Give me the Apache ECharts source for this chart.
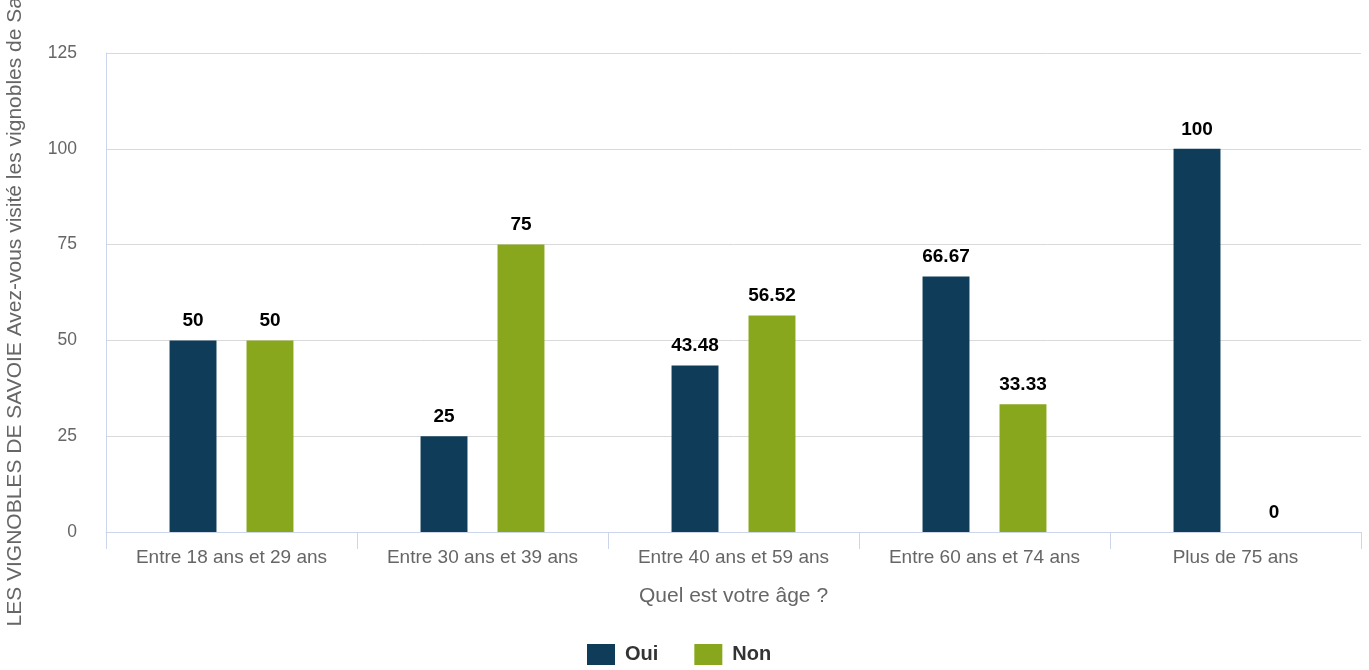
<!DOCTYPE html>
<html>
<head>
<meta charset="utf-8">
<script src="https://cdn.jsdelivr.net/npm/echarts@6/dist/echarts.min.js"></script>
<style>
html,body{margin:0;padding:0;background:#fff;}
#chart{width:1369px;height:670px;}
</style>
</head>
<body>
<div id="chart"></div>
<script>
const categories = ["Entre 18 ans et 29 ans", "Entre 30 ans et 39 ans", "Entre 40 ans et 59 ans", "Entre 60 ans et 74 ans", "Plus de 75 ans"];
const seriesNames = ["Oui", "Non"];
const ouiValues = [50, 25, 43.48, 66.67, 100];
const nonValues = [50, 75, 56.52, 33.33, 0];
const yTicks = [0, 25, 50, 75, 100, 125];
const xAxisName = "Quel est votre âge ?";
const yAxisName = "LES VIGNOBLES DE SAVOIE Avez-vous visité les vignobles de Savoie";
const colors = ["#0f3c58", "#89a71d"];

const FONT = "'Liberation Sans', Arial, sans-serif";
const chart = echarts.init(document.getElementById('chart'), null, {renderer: 'canvas'});

const labelCfg = {
  show: true,
  position: 'top',
  distance: 10,
  color: '#000',
  fontWeight: 'bold',
  fontSize: 19,
  fontFamily: FONT,
  textBorderColor: '#fff',
  textBorderWidth: 2
};

chart.setOption({
  animation: false,
  color: colors,
  textStyle: {fontFamily: FONT},
  grid: {left: 106, right: 8, top: 53, bottom: 138, containLabel: false, outerBoundsMode: 'none'},
  legend: {
    data: seriesNames,
    bottom: 0,
    left: 582,
    itemWidth: 28,
    itemHeight: 21,
    itemGap: 36,
    icon: 'rect',
    textStyle: {fontSize: 20, fontWeight: 'bold', color: '#333', fontFamily: FONT, padding: [0, 0, 0, 5]}
  },
  xAxis: {
    type: 'category',
    data: categories,
    name: xAxisName,
    nameLocation: 'middle',
    nameGap: 54,
    nameTextStyle: {fontSize: 21, color: '#666', fontFamily: FONT},
    axisLine: {lineStyle: {color: '#ccd6eb', width: 1}},
    axisTick: {show: true, length: 17, lineStyle: {color: '#ccd6eb'}},
    axisLabel: {fontSize: 19, color: '#666', margin: 16, fontFamily: FONT}
  },
  yAxis: {
    type: 'value',
    min: 0,
    max: 125,
    interval: 25,
    name: yAxisName,
    nameLocation: 'middle',
    nameGap: 80,
    nameTextStyle: {fontSize: 21, color: '#666', fontFamily: FONT},
    axisLine: {show: true, lineStyle: {color: '#ccd6eb', width: 1}},
    axisTick: {show: false},
    axisLabel: {fontSize: 17.5, color: '#666', margin: 29, fontFamily: FONT,
      formatter: function (v) { return yTicks.indexOf(v) >= 0 ? String(v) : ''; }},
    splitLine: {lineStyle: {color: '#d9d9d9', width: 1}}
  },
  series: [
    {name: seriesNames[0], type: 'bar', data: ouiValues, barWidth: '18.7%', barGap: '64%', label: labelCfg},
    {name: seriesNames[1], type: 'bar', data: nonValues, barWidth: '18.7%', barGap: '64%', label: labelCfg}
  ]
});
</script>
</body>
</html>
